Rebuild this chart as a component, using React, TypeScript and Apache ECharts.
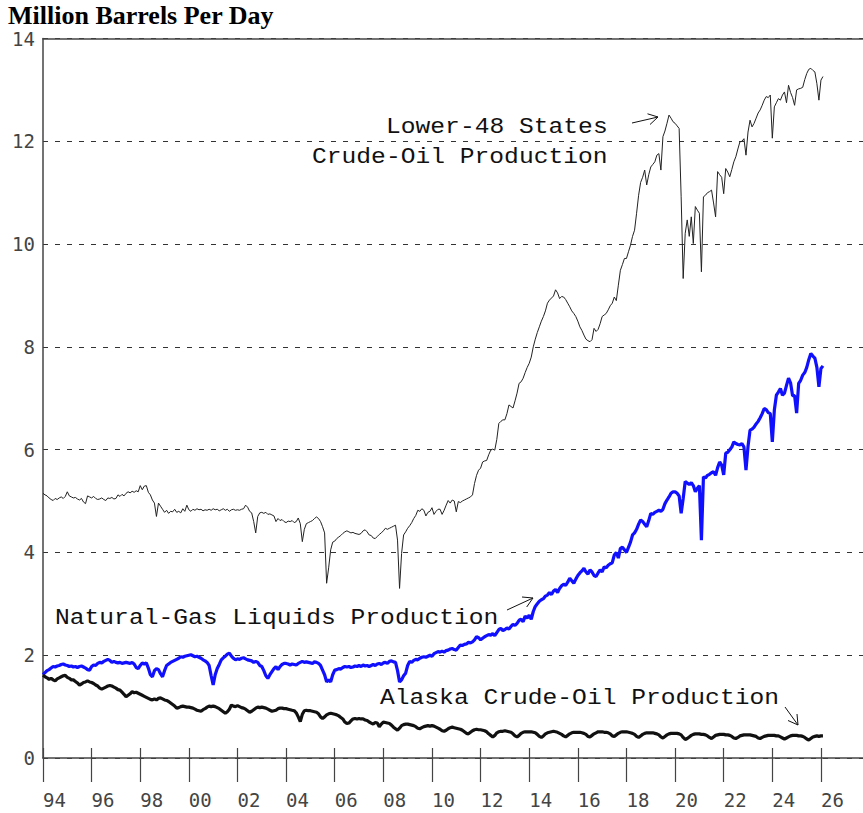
import React, { useEffect, useRef } from 'react';
import * as echarts from 'echarts';

// Monthly values, January 1994 .. February 2026 (million barrels per day)
const START_YEAR = 1994;

const lower48: number[] = [
  5.15, 5.12, 5.10, 5.06, 5.03, 5.01, 5.05, 5.03, 5.06, 5.08, 5.05, 5.09, // 1994
  5.18, 5.10, 5.08, 5.06, 5.07, 5.04, 5.02, 5.05, 4.98, 4.95, 5.10, 5.08, // 1995
  5.06, 5.09, 5.05, 5.03, 5.04, 5.06, 5.03, 5.01, 5.06, 5.05, 5.07, 5.04, // 1996
  5.05, 5.12, 5.09, 5.13, 5.10, 5.15, 5.18, 5.16, 5.19, 5.17, 5.20, 5.18, // 1997
  5.30, 5.22, 5.29, 5.30, 5.17, 5.12, 5.02, 4.96, 4.70, 4.96, 4.90, 4.84, // 1998
  4.78, 4.82, 4.76, 4.80, 4.79, 4.84, 4.78, 4.80, 4.77, 4.85, 4.80, 4.92, // 1999
  4.83, 4.80, 4.84, 4.82, 4.85, 4.83, 4.84, 4.81, 4.83, 4.82, 4.84, 4.82, // 2000
  4.85, 4.83, 4.84, 4.81, 4.83, 4.85, 4.82, 4.84, 4.80, 4.83, 4.84, 4.82, // 2001
  4.83, 4.82, 4.84, 4.85, 4.92, 4.88, 4.80, 4.77, 4.60, 4.38, 4.70, 4.77, // 2002
  4.78, 4.76, 4.78, 4.74, 4.75, 4.73, 4.71, 4.60, 4.66, 4.62, 4.64, 4.60, // 2003
  4.58, 4.61, 4.60, 4.62, 4.58, 4.60, 4.67, 4.56, 4.21, 4.45, 4.56, 4.58, // 2004
  4.60, 4.62, 4.66, 4.69, 4.66, 4.60, 4.50, 4.38, 3.40, 3.70, 4.05, 4.20, // 2005
  4.22, 4.27, 4.30, 4.33, 4.37, 4.40, 4.42, 4.40, 4.38, 4.39, 4.37, 4.36, // 2006
  4.35, 4.37, 4.42, 4.44, 4.40, 4.34, 4.33, 4.28, 4.27, 4.31, 4.35, 4.38, // 2007
  4.42, 4.47, 4.45, 4.47, 4.49, 4.51, 4.53, 4.24, 3.30, 3.98, 4.34, 4.40, // 2008
  4.47, 4.52, 4.58, 4.66, 4.72, 4.82, 4.80, 4.85, 4.82, 4.71, 4.78, 4.80, // 2009
  4.87, 4.74, 4.80, 4.84, 4.84, 4.74, 4.82, 4.92, 5.01, 4.96, 5.02, 5.00, // 2010
  4.79, 4.99, 4.97, 5.00, 5.02, 5.04, 5.06, 5.08, 5.12, 5.34, 5.50, 5.60, // 2011
  5.64, 5.76, 5.78, 5.79, 5.90, 5.99, 6.01, 5.99, 6.20, 6.51, 6.55, 6.58, // 2012
  6.58, 6.70, 6.87, 6.84, 6.81, 6.95, 7.10, 7.29, 7.32, 7.39, 7.50, 7.60, // 2013
  7.68, 7.80, 8.00, 8.15, 8.28, 8.39, 8.50, 8.59, 8.70, 8.85, 8.91, 8.95, // 2014
  8.99, 9.11, 9.05, 8.94, 8.98, 8.97, 8.92, 8.85, 8.78, 8.70, 8.65, 8.59, // 2015
  8.50, 8.39, 8.32, 8.23, 8.15, 8.12, 8.10, 8.14, 8.36, 8.30, 8.34, 8.45, // 2016
  8.59, 8.62, 8.65, 8.72, 8.80, 8.85, 8.97, 8.90, 9.20, 9.49, 9.60, 9.72, // 2017
  9.72, 9.85, 9.98, 10.15, 10.27, 10.60, 10.95, 11.20, 11.30, 11.44, 11.15, 11.35, // 2018
  11.50, 11.55, 11.60, 11.73, 11.76, 11.44, 12.09, 12.20, 12.35, 12.51, 12.45, 12.38, // 2019
  12.35, 12.30, 12.25, 10.92, 9.33, 10.21, 10.47, 10.15, 10.53, 10.01, 10.73, 10.66, // 2020
  10.60, 9.46, 10.92, 10.95, 11.00, 11.02, 11.05, 10.80, 10.53, 11.41, 11.35, 11.30, // 2021
  10.98, 11.47, 11.40, 11.31, 11.45, 11.60, 11.70, 11.85, 11.99, 12.00, 12.05, 11.73, // 2022
  12.18, 12.41, 12.28, 12.35, 12.45, 12.55, 12.61, 12.70, 12.80, 12.87, 12.85, 12.90, // 2023
  12.06, 12.67, 12.75, 12.83, 12.80, 12.90, 12.96, 12.75, 13.09, 12.95, 12.85, 12.70, // 2024
  13.00, 13.02, 13.03, 13.05, 13.20, 13.32, 13.40, 13.42, 13.38, 13.35, 13.12, 12.80, // 2025
  13.19, 13.26, // 2026
];

const ngl: number[] = [
  1.62, 1.66, 1.70, 1.72, 1.75, 1.78, 1.77, 1.79, 1.80, 1.82, 1.83, 1.81, // 1994
  1.80, 1.78, 1.79, 1.77, 1.78, 1.76, 1.78, 1.79, 1.77, 1.75, 1.72, 1.71, // 1995
  1.78, 1.81, 1.80, 1.84, 1.86, 1.85, 1.88, 1.90, 1.92, 1.90, 1.86, 1.88, // 1996
  1.86, 1.85, 1.86, 1.84, 1.85, 1.86, 1.85, 1.84, 1.86, 1.83, 1.76, 1.74, // 1997
  1.80, 1.85, 1.83, 1.85, 1.75, 1.62, 1.58, 1.70, 1.74, 1.72, 1.64, 1.58, // 1998
  1.70, 1.80, 1.83, 1.86, 1.88, 1.90, 1.92, 1.94, 1.97, 1.96, 1.98, 1.99, // 1999
  2.00, 2.01, 1.99, 1.97, 1.98, 1.96, 1.94, 1.91, 1.89, 1.86, 1.80, 1.60, // 2000
  1.42, 1.62, 1.74, 1.82, 1.91, 1.95, 1.98, 2.02, 2.04, 1.98, 1.94, 1.91, // 2001
  1.93, 1.92, 1.94, 1.95, 1.93, 1.91, 1.90, 1.89, 1.86, 1.88, 1.86, 1.80, // 2002
  1.78, 1.70, 1.60, 1.55, 1.62, 1.68, 1.74, 1.78, 1.72, 1.78, 1.82, 1.84, // 2003
  1.84, 1.83, 1.81, 1.83, 1.82, 1.81, 1.84, 1.86, 1.88, 1.86, 1.87, 1.86, // 2004
  1.85, 1.84, 1.87, 1.86, 1.84, 1.80, 1.71, 1.62, 1.48, 1.52, 1.48, 1.62, // 2005
  1.71, 1.72, 1.74, 1.73, 1.76, 1.78, 1.77, 1.78, 1.76, 1.77, 1.79, 1.78, // 2006
  1.80, 1.78, 1.81, 1.79, 1.80, 1.78, 1.80, 1.82, 1.80, 1.83, 1.84, 1.82, // 2007
  1.85, 1.86, 1.84, 1.88, 1.89, 1.87, 1.86, 1.70, 1.48, 1.52, 1.60, 1.65, // 2008
  1.80, 1.88, 1.86, 1.90, 1.92, 1.91, 1.94, 1.96, 1.97, 1.96, 1.98, 2.00, // 2009
  1.98, 2.03, 2.05, 2.07, 2.06, 2.08, 2.06, 2.09, 2.10, 2.12, 2.13, 2.11, // 2010
  2.10, 2.15, 2.20, 2.19, 2.21, 2.22, 2.25, 2.24, 2.26, 2.30, 2.36, 2.34, // 2011
  2.30, 2.33, 2.36, 2.38, 2.40, 2.39, 2.42, 2.38, 2.44, 2.50, 2.52, 2.48, // 2012
  2.50, 2.53, 2.51, 2.56, 2.60, 2.58, 2.62, 2.68, 2.70, 2.65, 2.76, 2.72, // 2013
  2.78, 2.70, 2.85, 2.95, 3.00, 3.05, 3.08, 3.10, 3.15, 3.17, 3.22, 3.18, // 2014
  3.25, 3.28, 3.22, 3.30, 3.35, 3.38, 3.36, 3.42, 3.50, 3.45, 3.40, 3.48, // 2015
  3.55, 3.60, 3.64, 3.69, 3.62, 3.58, 3.66, 3.62, 3.55, 3.53, 3.60, 3.66, // 2016
  3.62, 3.72, 3.70, 3.75, 3.78, 3.80, 3.95, 4.00, 3.89, 4.08, 4.10, 4.05, // 2017
  4.00, 4.10, 4.20, 4.34, 4.38, 4.45, 4.55, 4.63, 4.60, 4.55, 4.50, 4.62, // 2018
  4.76, 4.74, 4.78, 4.80, 4.82, 4.80, 4.84, 4.95, 5.02, 5.08, 5.15, 5.18, // 2019
  5.18, 5.15, 5.10, 4.76, 5.05, 5.38, 5.35, 5.32, 5.36, 5.30, 5.18, 5.25, // 2020
  5.30, 4.24, 5.47, 5.45, 5.50, 5.52, 5.55, 5.57, 5.50, 5.65, 5.76, 5.70, // 2021
  5.51, 5.93, 5.95, 6.00, 6.05, 6.15, 6.12, 6.10, 6.09, 6.12, 6.05, 5.60, // 2022
  6.06, 6.38, 6.40, 6.44, 6.50, 6.55, 6.62, 6.70, 6.80, 6.78, 6.72, 6.70, // 2023
  6.15, 6.77, 7.06, 7.12, 7.19, 7.06, 7.10, 7.25, 7.39, 7.30, 7.05, 7.05, // 2024
  6.71, 7.29, 7.35, 7.45, 7.50, 7.60, 7.75, 7.87, 7.82, 7.78, 7.60, 7.22, // 2025
  7.58, 7.63, // 2026
];

const alaska: number[] = [
  1.61, 1.58, 1.56, 1.53, 1.55, 1.52, 1.50, 1.54, 1.56, 1.58, 1.60, 1.61, // 1994
  1.57, 1.55, 1.52, 1.52, 1.49, 1.46, 1.42, 1.44, 1.47, 1.48, 1.50, 1.48, // 1995
  1.47, 1.45, 1.42, 1.40, 1.36, 1.34, 1.36, 1.38, 1.40, 1.41, 1.40, 1.38, // 1996
  1.36, 1.33, 1.32, 1.28, 1.24, 1.19, 1.22, 1.25, 1.29, 1.27, 1.28, 1.26, // 1997
  1.24, 1.22, 1.20, 1.18, 1.16, 1.14, 1.13, 1.15, 1.13, 1.16, 1.17, 1.15, // 1998
  1.13, 1.12, 1.10, 1.07, 1.04, 1.01, 0.97, 0.98, 1.00, 1.01, 1.00, 0.99, // 1999
  0.99, 0.98, 0.97, 0.95, 0.93, 0.92, 0.91, 0.94, 0.96, 0.99, 1.01, 1.00, // 2000
  1.01, 1.00, 0.98, 0.96, 0.93, 0.90, 0.87, 0.90, 0.95, 1.03, 1.01, 1.00, // 2001
  1.02, 1.00, 0.98, 0.97, 0.95, 0.92, 0.89, 0.91, 0.94, 0.97, 0.99, 0.98, // 2002
  0.99, 0.98, 0.97, 0.95, 0.93, 0.91, 0.92, 0.93, 0.96, 0.97, 0.97, 0.96, // 2003
  0.96, 0.95, 0.94, 0.93, 0.92, 0.88, 0.80, 0.71, 0.85, 0.92, 0.93, 0.92, // 2004
  0.92, 0.91, 0.90, 0.89, 0.86, 0.80, 0.77, 0.80, 0.84, 0.86, 0.87, 0.86, // 2005
  0.85, 0.84, 0.82, 0.79, 0.76, 0.70, 0.67, 0.68, 0.72, 0.76, 0.77, 0.76, // 2006
  0.77, 0.76, 0.76, 0.74, 0.73, 0.70, 0.68, 0.66, 0.69, 0.68, 0.61, 0.66, // 2007
  0.70, 0.69, 0.68, 0.67, 0.64, 0.60, 0.57, 0.54, 0.58, 0.63, 0.65, 0.66, // 2008
  0.66, 0.65, 0.64, 0.63, 0.61, 0.58, 0.57, 0.59, 0.61, 0.62, 0.63, 0.62, // 2009
  0.63, 0.62, 0.60, 0.58, 0.56, 0.53, 0.52, 0.54, 0.57, 0.59, 0.60, 0.59, // 2010
  0.58, 0.57, 0.56, 0.54, 0.51, 0.48, 0.47, 0.50, 0.53, 0.55, 0.56, 0.55, // 2011
  0.55, 0.54, 0.53, 0.51, 0.47, 0.44, 0.41, 0.44, 0.49, 0.51, 0.52, 0.52, // 2012
  0.53, 0.52, 0.51, 0.50, 0.47, 0.43, 0.41, 0.44, 0.48, 0.50, 0.51, 0.51, // 2013
  0.51, 0.51, 0.50, 0.49, 0.46, 0.42, 0.40, 0.43, 0.47, 0.49, 0.50, 0.51, // 2014
  0.52, 0.51, 0.50, 0.48, 0.46, 0.43, 0.41, 0.44, 0.47, 0.49, 0.50, 0.50, // 2015
  0.50, 0.50, 0.49, 0.48, 0.46, 0.42, 0.41, 0.44, 0.47, 0.49, 0.51, 0.51, // 2016
  0.51, 0.50, 0.50, 0.49, 0.47, 0.43, 0.42, 0.45, 0.48, 0.50, 0.51, 0.51, // 2017
  0.51, 0.50, 0.49, 0.48, 0.46, 0.42, 0.40, 0.43, 0.46, 0.48, 0.49, 0.49, // 2018
  0.49, 0.49, 0.48, 0.47, 0.45, 0.41, 0.39, 0.42, 0.45, 0.47, 0.48, 0.48, // 2019
  0.48, 0.48, 0.47, 0.45, 0.40, 0.36, 0.38, 0.41, 0.44, 0.46, 0.47, 0.47, // 2020
  0.47, 0.46, 0.46, 0.45, 0.43, 0.40, 0.38, 0.41, 0.44, 0.45, 0.46, 0.46, // 2021
  0.46, 0.45, 0.45, 0.44, 0.42, 0.39, 0.38, 0.40, 0.43, 0.44, 0.45, 0.45, // 2022
  0.45, 0.45, 0.44, 0.43, 0.42, 0.39, 0.38, 0.40, 0.42, 0.43, 0.44, 0.44, // 2023
  0.44, 0.44, 0.43, 0.43, 0.41, 0.39, 0.37, 0.39, 0.41, 0.43, 0.44, 0.44, // 2024
  0.44, 0.43, 0.43, 0.42, 0.40, 0.37, 0.35, 0.38, 0.41, 0.42, 0.43, 0.42, // 2025
  0.43, 0.43, // 2026
];

const xTickYears: number[] = [
  1994, 1996, 1998, 2000, 2002, 2004, 2006, 2008, 2010, 2012, 2014, 2016, 2018, 2020, 2022, 2024, 2026,
];

const titleText = 'Million Barrels Per Day';
const labelLower48a = 'Lower-48 States';
const labelLower48b = 'Crude-Oil Production';
const labelNgl = 'Natural-Gas Liquids Production';
const labelAlaska = 'Alaska Crude-Oil Production';

function toPairs(values: number[]) {
  return values.map((v, i) => [START_YEAR + i / 12, v]);
}

export default function App() {
  const ref = useRef<HTMLDivElement>(null);

  useEffect(() => {
    const chart = echarts.init(ref.current!, null, { renderer: 'svg' });
    const X_MIN = 1994;
    const X_MAX = 2027.73;
    const fmt = (v: number) => String(Math.round(v) % 100).padStart(2, '0');
    const tickFont = { fontFamily: 'DejaVu Sans Mono', fontSize: 19, color: '#444' };
    const axisColor = '#444';
    const annFont = { fontFamily: 'Liberation Mono', fontSize: 22, fill: '#111' };
    const SX = 1.12;
    const annText = (text: string, x: number, y: number) => ({
      type: 'text',
      x,
      y,
      scaleX: SX,
      silent: true,
      style: { text, ...annFont, align: 'left', verticalAlign: 'middle' },
    });
    const seg = (x1: number, y1: number, x2: number, y2: number) => ({
      type: 'line',
      silent: true,
      shape: { x1, y1, x2, y2 },
      style: { stroke: '#111', lineWidth: 1 },
    });
    const head = (pts: number[][]) => ({
      type: 'polyline',
      silent: true,
      shape: { points: pts },
      style: { stroke: '#111', lineWidth: 1, fill: 'none' },
    });

    chart.setOption({
      animation: false,
      backgroundColor: '#ffffff',
      title: {
        text: titleText,
        left: 8,
        top: 2,
        padding: 0,
        textStyle: {
          fontFamily: 'Liberation Serif',
          fontWeight: 'bold',
          fontSize: 26,
          lineHeight: 26,
          color: '#000',
        },
      },
      grid: [
        { left: 43, right: 0, top: 38.5, bottom: 55 },
        { left: 43, right: 0, top: 38.5, bottom: 55 },
      ],
      xAxis: [
        {
          gridIndex: 0,
          type: 'value',
          min: X_MIN,
          max: X_MAX,
          position: 'bottom',
          axisLine: { show: true, lineStyle: { color: axisColor, width: 1.5 } },
          axisTick: { show: true, customValues: xTickYears, length: 24, lineStyle: { color: axisColor, width: 1.2 } },
          axisLabel: { customValues: xTickYears, formatter: fmt, margin: 32, align: 'left', ...tickFont },
          splitLine: { show: false },
        },
        {
          gridIndex: 0,
          type: 'value',
          min: X_MIN,
          max: X_MAX,
          position: 'top',
          axisLine: { show: true, lineStyle: { color: axisColor, width: 1.5 } },
          axisTick: { show: false },
          axisLabel: { show: false },
          splitLine: { show: false },
        },
        {
          gridIndex: 1,
          type: 'value',
          min: X_MIN,
          max: X_MAX,
          position: 'bottom',
          axisLine: { show: false },
          axisTick: { show: true, inside: true, customValues: xTickYears, length: 10, lineStyle: { color: axisColor, width: 1.2 } },
          axisLabel: { show: false },
          splitLine: { show: false },
        },
      ],
      yAxis: [
        {
          gridIndex: 0,
          type: 'value',
          min: 0,
          max: 14,
          interval: 2,
          axisLine: { show: true, lineStyle: { color: axisColor, width: 1.5 } },
          axisTick: { show: false },
          axisLabel: { margin: 8, lineHeight: 16, ...tickFont },
          splitLine: { show: true, lineStyle: { type: [5, 7], color: '#333', width: 1 } },
        },
        { gridIndex: 1, type: 'value', min: 0, max: 14, show: false },
      ],
      series: [
        {
          name: 'Lower-48 States Crude-Oil Production',
          type: 'line',
          xAxisIndex: 0,
          yAxisIndex: 0,
          showSymbol: false,
          data: toPairs(lower48),
          lineStyle: { color: '#222', width: 1 },
          z: 3,
        },
        {
          name: 'Natural-Gas Liquids Production',
          type: 'line',
          xAxisIndex: 0,
          yAxisIndex: 0,
          showSymbol: false,
          data: toPairs(ngl),
          lineStyle: { color: '#1010ff', width: 3.2 },
          z: 4,
        },
        {
          name: 'Alaska Crude-Oil Production',
          type: 'line',
          xAxisIndex: 0,
          yAxisIndex: 0,
          showSymbol: false,
          data: toPairs(alaska),
          lineStyle: { color: '#111', width: 3.2 },
          z: 5,
        },
      ],
      graphic: [
        annText(labelLower48a, 386, 127),
        annText(labelLower48b, 312, 157),
        annText(labelNgl, 55, 618),
        annText(labelAlaska, 380, 698),
        seg(632, 123, 658, 117),
        head([[647.5, 113.8], [658, 117], [650, 124.5]]),
        seg(507, 610, 533, 598),
        head([[522, 597], [533, 598], [526.7, 607]]),
        seg(785, 707, 798, 725),
        head([[797, 714], [798, 725], [788, 720.5]]),
      ],
    });
    return () => chart.dispose();
  }, []);

  return (
    <div
      ref={ref}
      style={{ position: 'fixed', left: 0, top: 0, width: 863, height: 813, background: '#fff' }}
    />
  );
}
